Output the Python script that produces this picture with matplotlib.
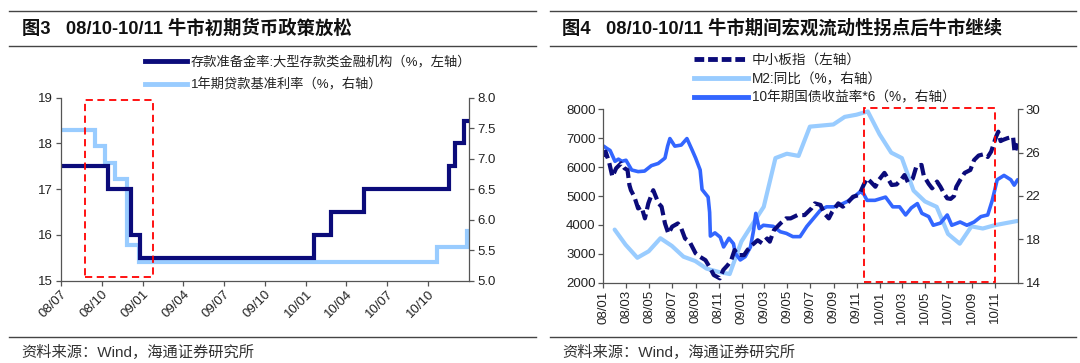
import matplotlib
matplotlib.use("Agg")
import matplotlib.pyplot as plt
import matplotlib.dates as mdates
from matplotlib.lines import Line2D
from matplotlib.patches import Rectangle
import pandas as pd

plt.rcParams['font.family'] = ['Liberation Sans', 'Noto Sans CJK SC', 'DejaVu Sans']
plt.rcParams['axes.unicode_minus'] = False

# ---------------- Data: Figure 3 ----------------
rrr_dates = ['2008-07-01', '2008-10-15', '2008-12-05', '2008-12-25', '2010-01-18',
             '2010-02-25', '2010-05-10', '2010-11-16', '2010-11-29', '2010-12-20', '2010-12-31']
rrr_vals = [17.5, 17.0, 16.0, 15.5, 16.0, 16.5, 17.0, 17.5, 18.0, 18.5, 18.5]

loan_dates = ['2008-07-01', '2008-09-16', '2008-10-09', '2008-10-30', '2008-11-27',
              '2008-12-23', '2010-10-20', '2010-12-26', '2010-12-31']
loan_vals = [7.47, 7.20, 6.93, 6.66, 5.58, 5.31, 5.56, 5.81, 5.81]

left_xlim = ['2008-07-01', '2011-01-01']
left_xticks = ['2008-07-01', '2008-10-01', '2009-01-01', '2009-04-01', '2009-07-01',
               '2009-10-01', '2010-01-01', '2010-04-01', '2010-07-01', '2010-10-01']
left_highlight = ['2008-08-25', '2009-01-23']
left_highlight_y = [15.08, 18.96]

rrr_label = '存款准备金率:大型存款类金融机构（%，左轴）'
loan_label = '1年期贷款基准利率（%，右轴）'
title3 = '图3   08/10-10/11 牛市初期货币政策放松'

# ---------------- Data: Figure 4 ----------------
sme_dates = ['2008-01-02', '2008-01-07', '2008-01-16', '2008-01-25', '2008-02-04', '2008-02-17',
             '2008-02-26', '2008-03-05', '2008-03-10', '2008-03-14', '2008-03-23', '2008-04-02',
             '2008-04-11', '2008-04-20', '2008-04-29', '2008-05-12', '2008-05-26', '2008-06-03',
             '2008-06-12', '2008-06-21', '2008-07-01', '2008-07-16', '2008-07-25', '2008-08-04',
             '2008-08-16', '2008-09-01', '2008-09-12', '2008-09-27', '2008-10-10', '2008-10-19',
             '2008-11-04', '2008-11-13', '2008-11-25', '2008-12-04', '2008-12-13', '2008-12-22',
             '2009-01-07', '2009-01-16', '2009-01-28', '2009-02-12', '2009-02-24', '2009-03-09',
             '2009-03-16', '2009-03-27', '2009-04-13', '2009-04-28', '2009-05-10', '2009-05-28',
             '2009-06-16', '2009-07-04', '2009-07-13', '2009-07-28', '2009-08-07', '2009-08-19',
             '2009-08-28', '2009-09-13', '2009-09-25', '2009-10-10', '2009-10-22', '2009-11-07',
             '2009-11-19', '2009-11-28', '2009-12-07', '2009-12-20', '2009-12-29', '2010-01-13',
             '2010-01-22', '2010-02-01', '2010-02-14', '2010-02-27', '2010-03-07', '2010-03-16',
             '2010-03-29', '2010-04-08', '2010-04-21', '2010-04-27', '2010-05-10', '2010-05-19',
             '2010-06-01', '2010-06-10', '2010-06-19', '2010-06-28', '2010-07-07', '2010-07-16',
             '2010-07-22', '2010-08-01', '2010-08-13', '2010-08-28', '2010-09-07', '2010-09-19',
             '2010-10-04', '2010-10-13', '2010-10-22', '2010-11-04', '2010-11-10', '2010-11-16',
             '2010-11-22', '2010-12-04', '2010-12-19', '2010-12-23', '2010-12-31']
sme_vals = [6360, 6535, 6190, 5670, 5960, 6130,
            5960, 5900, 5380, 5200, 4975, 4570,
            4630, 4225, 4745, 5200, 4745, 4630,
            4050, 3700, 3940, 4050, 3880, 3530,
            3420, 3015, 2900, 2780, 2495, 2265,
            2150, 2440, 2610, 2780, 3130, 2955,
            2955, 3130, 3300, 3470, 3360, 3530,
            3420, 3820, 4050, 4225, 4225, 4340,
            4340, 4570, 4745, 4690, 4400, 4225,
            4455, 4745, 4630, 4800, 4975, 5035,
            5380, 5610, 5500, 5320, 5550, 5800,
            5610, 5380, 5400, 5580, 5725, 5480,
            5610, 6050, 6075, 5700, 5420, 5265,
            5500, 5320, 5100, 4920, 4900, 5000,
            5320, 5550, 5800, 5900, 6245, 6400,
            6450, 6350, 6535, 7050, 7225, 6900,
            6940, 7000, 7050, 6500, 6820]

m2_dates = pd.date_range('2008-01-31', '2010-12-31', freq='ME').strftime('%Y-%m-%d').tolist()
m2_vals = [18.9, 17.5, 16.3, 16.9, 18.1, 17.4, 16.4, 16.0, 15.3, 15.0, 14.8, 17.8,
           19.5, 21.0, 25.5, 25.9, 25.7, 28.4, 28.5, 28.6, 29.3, 29.5, 29.8, 27.7,
           26.0, 25.5, 22.5, 21.5, 21.0, 18.5, 17.6, 19.2, 19.0, 19.3, 19.5, 19.7]

bond_dates = ['2008-01-02', '2008-01-10', '2008-01-19', '2008-02-01', '2008-02-10', '2008-02-19',
              '2008-03-01', '2008-03-16', '2008-04-02', '2008-04-19', '2008-05-07', '2008-05-25',
              '2008-06-12', '2008-06-19', '2008-06-25', '2008-07-08', '2008-07-25', '2008-08-09',
              '2008-08-22', '2008-09-01', '2008-09-13', '2008-09-18', '2008-10-04', '2008-10-08',
              '2008-10-10', '2008-10-22', '2008-11-05', '2008-11-14', '2008-11-28', '2008-12-10',
              '2008-12-15', '2008-12-28', '2009-01-10', '2009-01-24', '2009-02-01', '2009-02-07',
              '2009-02-16', '2009-02-27', '2009-03-25', '2009-04-13', '2009-04-29', '2009-05-16',
              '2009-06-04', '2009-06-22', '2009-07-10', '2009-07-28', '2009-08-13', '2009-09-01',
              '2009-09-19', '2009-10-07', '2009-10-24', '2009-11-10', '2009-11-19', '2009-11-28',
              '2009-12-19', '2010-01-16', '2010-02-04', '2010-02-22', '2010-03-10', '2010-03-25',
              '2010-04-10', '2010-04-22', '2010-05-10', '2010-05-22', '2010-06-10', '2010-06-28',
              '2010-07-10', '2010-08-01', '2010-08-19', '2010-09-07', '2010-09-25', '2010-10-13',
              '2010-10-25', '2010-11-07', '2010-11-25', '2010-12-13', '2010-12-22', '2010-12-31']
bond_vals = [26.6, 26.4, 26.2, 25.2, 25.4, 25.2,
             25.3, 24.4, 24.25, 24.3, 24.8, 25.0,
             25.5, 26.6, 27.3, 26.6, 26.7, 27.3,
             26.3, 25.5, 24.4, 22.6, 21.9, 20.5,
             18.3, 18.6, 18.2, 17.3, 18.1, 17.6,
             16.7, 16.1, 16.4, 17.3, 18.8, 20.4,
             19.0, 19.3, 19.2, 18.7, 18.55, 18.25,
             18.25, 19.2, 19.95, 20.7, 21.0, 21.0,
             21.2, 21.5, 21.9, 22.4, 22.2, 21.6,
             21.6, 21.9, 21.0, 21.0, 20.25, 20.9,
             21.3, 20.4, 20.1, 19.3, 19.5, 20.25,
             19.3, 19.6, 19.3, 19.6, 20.1, 20.25,
             21.6, 23.5, 23.9, 23.5, 23.0, 23.5]

right_xlim = ['2008-01-01', '2011-01-01']
right_xticks = pd.date_range('2008-01-01', '2010-11-01', freq='2MS').strftime('%Y-%m-%d').tolist()
right_highlight = ['2009-11-21', '2010-11-01']
right_highlight_y = [2010, 8050]

sme_label = '中小板指（左轴）'
m2_label = 'M2:同比（%，右轴）'
bond_label = '10年期国债收益率*6（%，右轴）'
title4 = '图4   08/10-10/11 牛市期间宏观流动性拐点后牛市继续'
source = '资料来源：Wind，海通证券研究所'

# ---------------- Styles ----------------
NAVY = '#0b0b7a'
LIGHT = '#99ccff'
MID = '#3366ff'
SPINE = '#555555'
TICKFS = 9.5

W, H = 1080, 363
fig = plt.figure(figsize=(W / 100, H / 100), dpi=100)


def style_axes(ax, axr):
    for a in (ax, axr):
        a.spines['top'].set_visible(False)
        for s in ('left', 'right', 'bottom'):
            a.spines[s].set_color(SPINE)
            a.spines[s].set_linewidth(0.9)
        a.tick_params(direction='out', length=3.5, width=0.9, color=SPINE,
                      labelsize=TICKFS, labelcolor='#222222', pad=2)
    ax.spines['right'].set_visible(False)
    axr.spines['left'].set_visible(False)
    axr.spines['bottom'].set_visible(False)


# ---------------- Figure 3 ----------------
ax1 = fig.add_axes([60.7 / W, 82.3 / H, 408.6 / W, 183 / H])
ax1r = ax1.twinx()
style_axes(ax1, ax1r)

rd = pd.to_datetime(rrr_dates)
ld = pd.to_datetime(loan_dates)
ax1r.plot(ld, loan_vals, drawstyle='steps-post', color=LIGHT, lw=3.0,
          solid_capstyle='round', solid_joinstyle='miter')
ax1.plot(rd, rrr_vals, drawstyle='steps-post', color=NAVY, lw=3.0,
         solid_capstyle='round', solid_joinstyle='miter')
ax1.set_zorder(ax1r.get_zorder() + 1)
ax1.patch.set_visible(False)

ax1.set_xlim(pd.to_datetime(left_xlim))
ax1.set_ylim(15, 19)
ax1.set_yticks([15, 16, 17, 18, 19])
ax1r.set_ylim(5.0, 8.0)
ax1r.set_yticks([5.0, 5.5, 6.0, 6.5, 7.0, 7.5, 8.0])
ax1r.yaxis.set_major_formatter(matplotlib.ticker.FormatStrFormatter('%.1f'))
ax1.set_xticks(pd.to_datetime(left_xticks))
ax1.xaxis.set_major_formatter(mdates.DateFormatter('%y/%m'))
for lab in ax1.get_xticklabels():
    lab.set_rotation(45)
    lab.set_ha('right')
    lab.set_va('top')
    lab.set_rotation_mode('anchor')

hx = mdates.date2num(pd.to_datetime(left_highlight))
ax1.add_patch(Rectangle((hx[0], left_highlight_y[0]), hx[1] - hx[0],
                        left_highlight_y[1] - left_highlight_y[0], fill=False,
                        edgecolor='#ff0000', lw=1.3, ls=(0, (4, 2.5)), clip_on=False, zorder=10))

fig.legend(handles=[Line2D([], [], color=NAVY, lw=3.5), Line2D([], [], color=LIGHT, lw=3.5)],
           labels=[rrr_label, loan_label], loc='upper left',
           bbox_to_anchor=(145 / W, 1 - 55.5 / H), frameon=False, fontsize=9.5,
           handlelength=3.2, handletextpad=0.25, labelspacing=0.75,
           borderpad=0, borderaxespad=0, labelcolor='#222222')

# ---------------- Figure 4 ----------------
ax2 = fig.add_axes([603.3 / W, 80.3 / H, 414.7 / W, 173.4 / H])
ax2r = ax2.twinx()
style_axes(ax2, ax2r)

ax2r.plot(pd.to_datetime(m2_dates), m2_vals, color=LIGHT, lw=3.0, solid_capstyle='round')
ax2r.plot(pd.to_datetime(bond_dates), bond_vals, color=MID, lw=2.6, solid_capstyle='round')
ax2.plot(pd.to_datetime(sme_dates), sme_vals, color=NAVY, lw=3.0, ls=(0, (3.0, 1.2)),
         dash_capstyle='butt')
ax2.set_zorder(ax2r.get_zorder() + 1)
ax2.patch.set_visible(False)

ax2.set_xlim(pd.to_datetime(right_xlim))
ax2.set_ylim(2000, 8000)
ax2.set_yticks(range(2000, 8001, 1000))
ax2r.set_ylim(14, 30)
ax2r.set_yticks([14, 18, 22, 26, 30])
ax2.set_xticks(pd.to_datetime(right_xticks))
ax2.xaxis.set_major_formatter(mdates.DateFormatter('%y/%m'))
for lab in ax2.get_xticklabels():
    lab.set_rotation(90)
    lab.set_ha('center')
    lab.set_va('top')

hx2 = mdates.date2num(pd.to_datetime(right_highlight))
ax2.add_patch(Rectangle((hx2[0], right_highlight_y[0]), hx2[1] - hx2[0],
                        right_highlight_y[1] - right_highlight_y[0], fill=False,
                        edgecolor='#ff0000', lw=1.3, ls=(0, (4, 2.5)), clip_on=False, zorder=10))

fig.legend(handles=[Line2D([], [], color=NAVY, lw=3.5, ls=(0, (2.0, 0.8))),
                    Line2D([], [], color=LIGHT, lw=3.5),
                    Line2D([], [], color=MID, lw=3.5)],
           labels=[sme_label, m2_label, bond_label], loc='upper left',
           bbox_to_anchor=(694 / W, 1 - 53 / H), frameon=False, fontsize=9.8,
           handlelength=4.0, handletextpad=0.25, labelspacing=0.36,
           borderpad=0, borderaxespad=0, labelcolor='#222222')

# ---------------- Titles, rules, sources ----------------
for x0, x1, tx, title in [(8.6, 536, 21.5, title3), (550, 1076, 562.5, title4)]:
    for yy in (11, 45.5, 337):
        fig.add_artist(Line2D([x0 / W, x1 / W], [1 - yy / H] * 2, transform=fig.transFigure,
                              color='#444444', lw=1.0))
    fig.text(tx / W, 1 - 28.5 / H, title, fontsize=13.2, fontweight='bold', va='center',
             ha='left', color='#111111')
    fig.text(tx / W, 1 - 352 / H, source, fontsize=11, va='center', ha='left', color='#333333')

fig.savefig('out.png', dpi=100)
